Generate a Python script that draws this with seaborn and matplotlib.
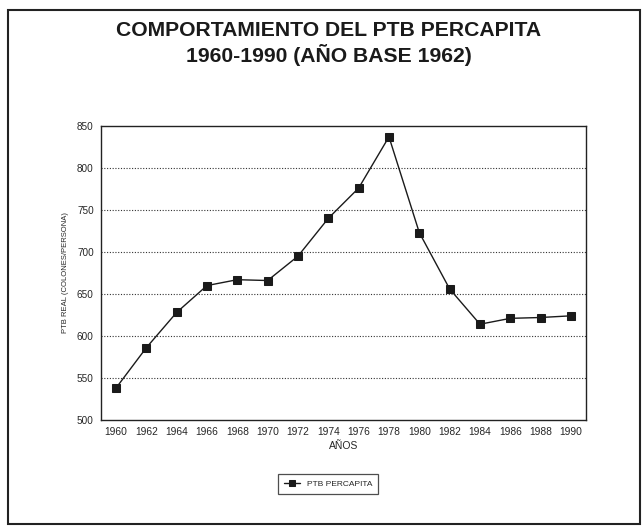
import matplotlib
matplotlib.use("Agg")
import matplotlib.pyplot as plt
import matplotlib.patches as mpatches
import seaborn as sns
import pandas as pd

years = [1960, 1962, 1964, 1966, 1968, 1970, 1972, 1974, 1976, 1978, 1980, 1982, 1984, 1986, 1988, 1990]
ptb = [538, 586, 628, 660, 667, 666, 695, 740, 776, 837, 723, 656, 614, 621, 622, 624]
series_name = "PTB PERCAPITA"
yticks = [500, 550, 600, 650, 700, 750, 800, 850]

df = pd.DataFrame({"AÑOS": years, "PTB": ptb, "serie": series_name})

sns.set_theme(style="white")
plt.rcParams["font.family"] = ["Liberation Sans", "DejaVu Sans"]

fig = plt.figure(figsize=(6.42, 5.29), dpi=100)
ax = fig.add_axes([0.157, 0.206, 0.756, 0.556])

sns.lineplot(data=df, x="AÑOS", y="PTB", hue="serie", palette=["#1a1a1a"],
             marker="s", markersize=6, markeredgecolor="#1a1a1a", linewidth=1.0, ax=ax)

ax.set_xlim(1959, 1991)
ax.set_ylim(500, 850)
ax.set_xticks(years)
ax.set_xticklabels([str(y) for y in years], fontsize=7.4)
ax.set_yticks(yticks)
ax.set_yticklabels([str(v) for v in yticks], fontsize=7.2)
for y in yticks[1:-1]:
    ax.axhline(y, color="#333333", linestyle=(0, (1, 1.5)), linewidth=0.8, zorder=0)
for s in ax.spines.values():
    s.set_color("#222222")
    s.set_linewidth(1.0)
ax.tick_params(axis="both", direction="out", length=3, width=0.8, color="#222222", pad=2)
ax.set_xlabel("AÑOS", fontsize=7.5, labelpad=3)
ax.set_ylabel("PTB REAL (COLONES/PERSONA)", fontsize=5.5, labelpad=6)

leg = ax.legend(loc="center", bbox_to_anchor=(328 / 642, 1 - 484 / 529),
                bbox_transform=fig.transFigure, fontsize=6, frameon=True,
                fancybox=False, handlelength=2.0, borderpad=0.7, markerscale=0.8)
leg.get_frame().set_edgecolor("#222222")
leg.get_frame().set_linewidth(0.9)

fig.text(0.512, 1 - 31 / 529, "COMPORTAMIENTO DEL PTB PERCAPITA", ha="center", va="center",
         fontsize=15.2, fontweight="bold", color="#1a1a1a")
fig.text(0.512, 1 - 55.5 / 529, "1960-1990 (AÑO BASE 1962)", ha="center", va="center",
         fontsize=15.2, fontweight="bold", color="#1a1a1a")

border = mpatches.Rectangle((8 / 642, 1 - 524 / 529), (640 - 8) / 642, (524 - 10) / 529,
                            transform=fig.transFigure, fill=False, edgecolor="#222222",
                            linewidth=1.5)
fig.patches.append(border)

fig.savefig("out.png", dpi=100)
